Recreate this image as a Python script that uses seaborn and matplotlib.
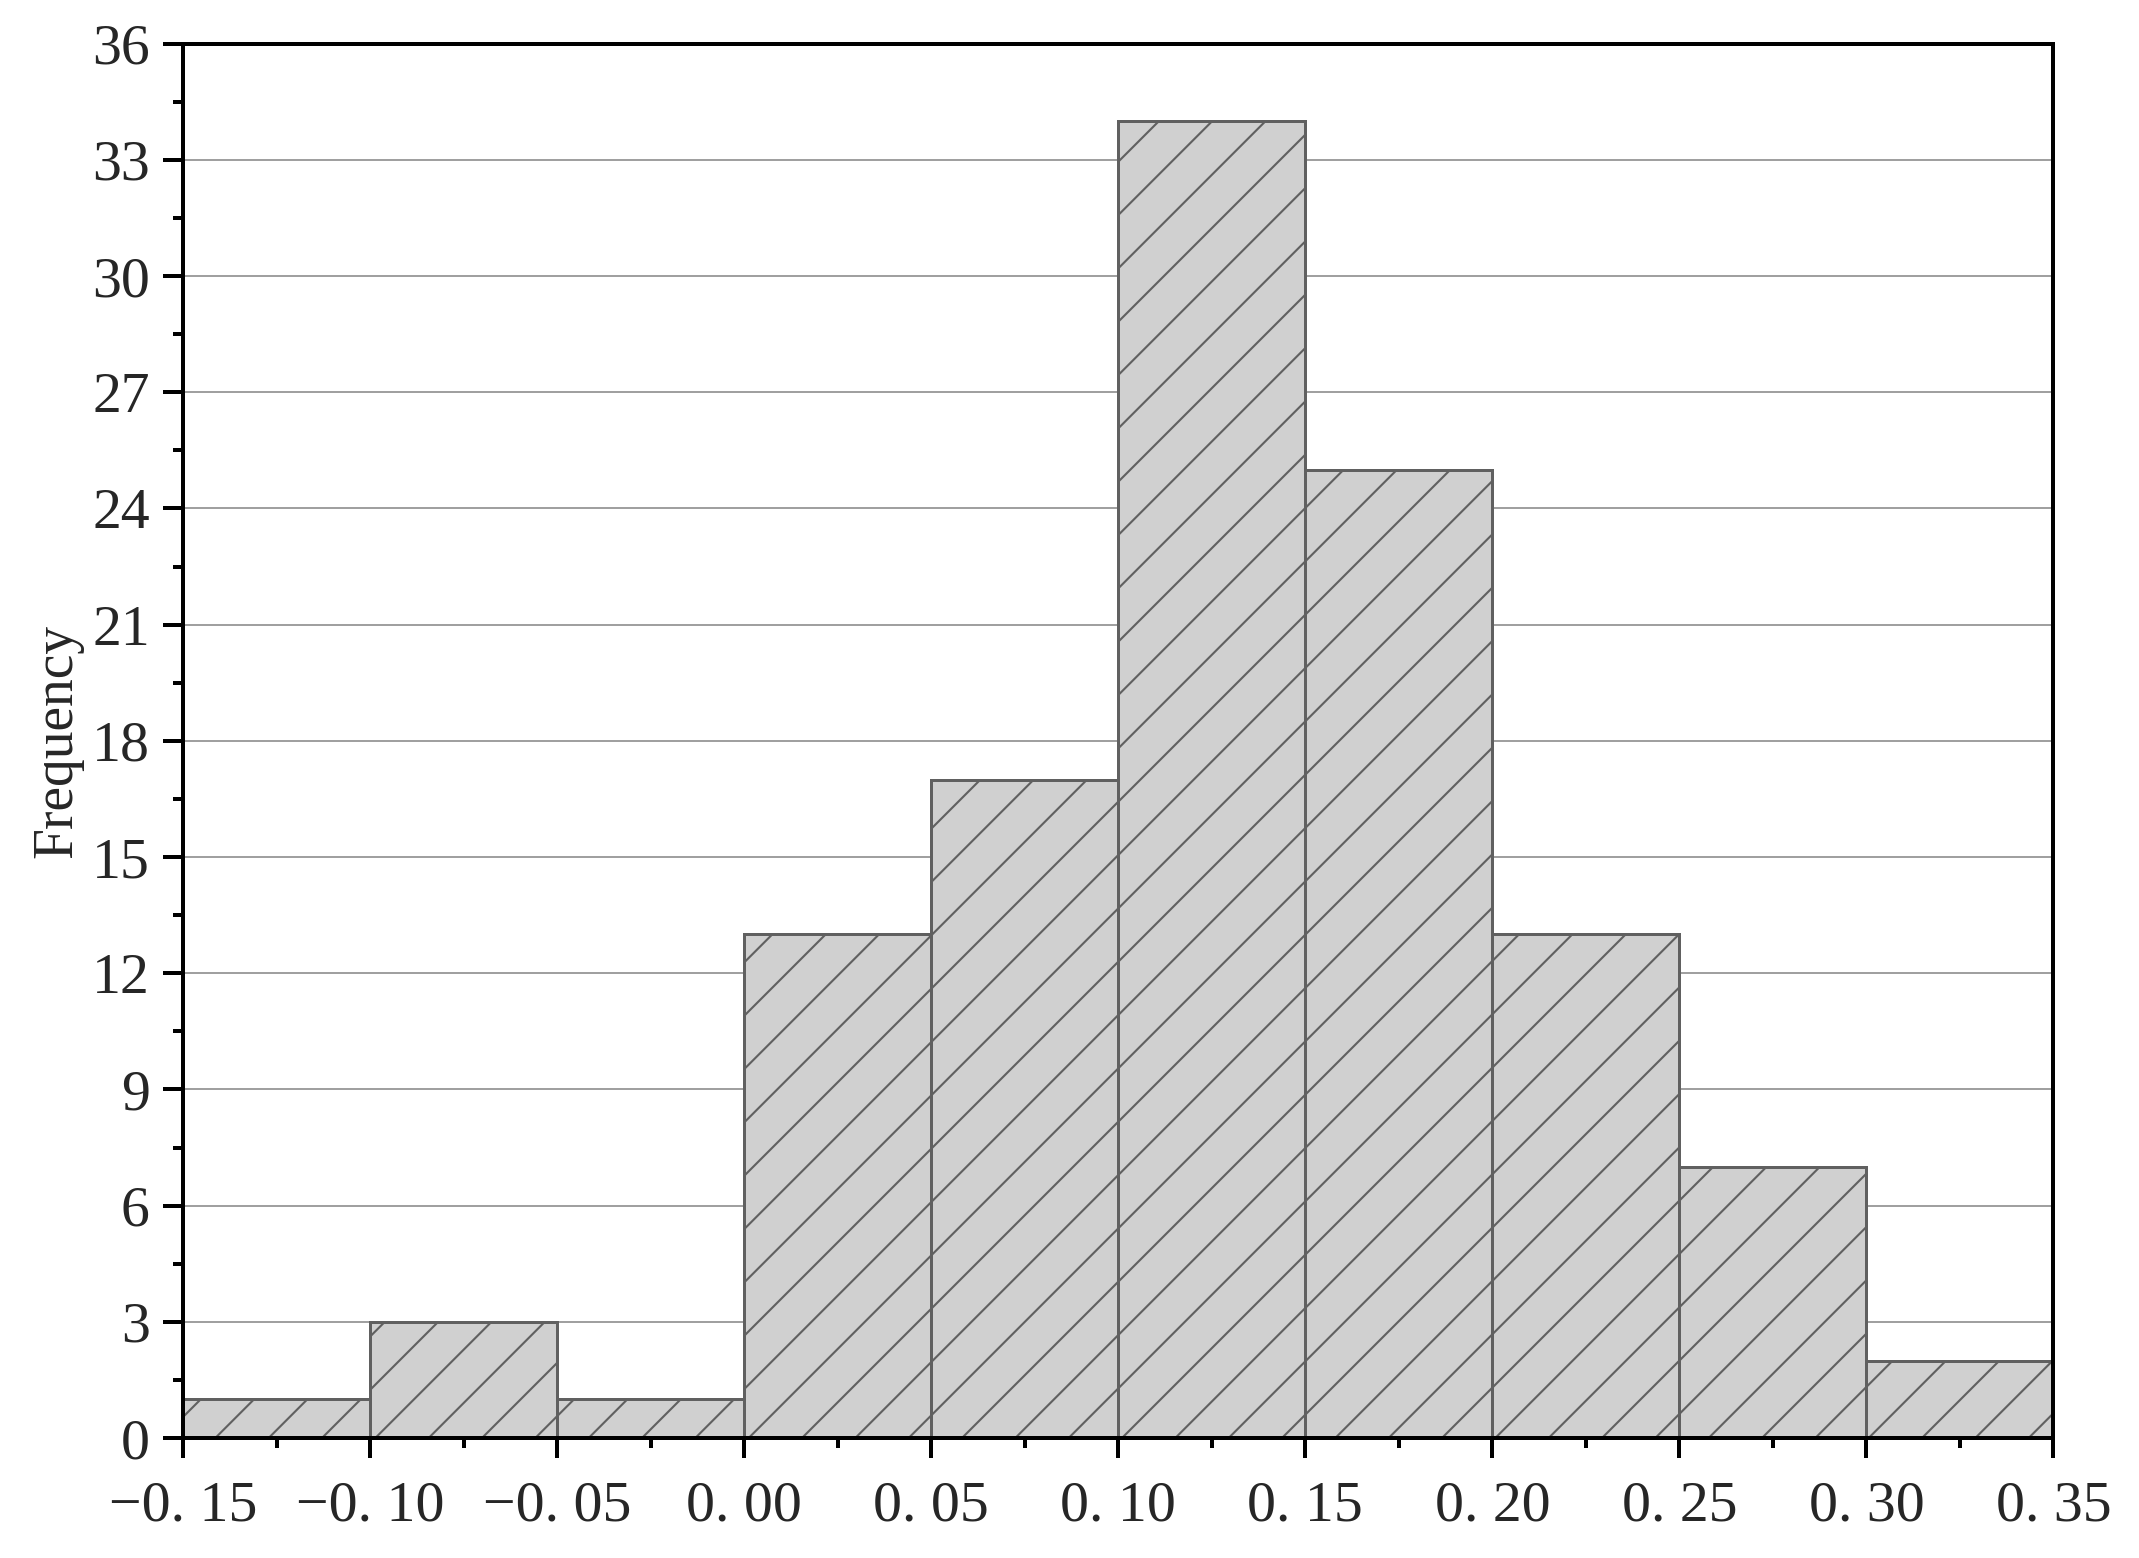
import numpy as np
import matplotlib
matplotlib.use("Agg")
import matplotlib.pyplot as plt
import seaborn as sns
from matplotlib.ticker import MultipleLocator, FixedLocator

# histogram data
bin_edges = [-0.15, -0.10, -0.05, 0.00, 0.05, 0.10, 0.15, 0.20, 0.25, 0.30, 0.35]
counts = [1, 3, 1, 13, 17, 34, 25, 13, 7, 2]
x_ticks = [-0.15, -0.10, -0.05, 0.00, 0.05, 0.10, 0.15, 0.20, 0.25, 0.30, 0.35]
x_tick_labels = ["\u22120. 15", "\u22120. 10", "\u22120. 05", "0. 00", "0. 05", "0. 10",
                 "0. 15", "0. 20", "0. 25", "0. 30", "0. 35"]
y_ticks = [0, 3, 6, 9, 12, 15, 18, 21, 24, 27, 30, 33, 36]

centers = [(a + b) / 2 for a, b in zip(bin_edges[:-1], bin_edges[1:])]

sns.set_style("white")
plt.rcParams["font.family"] = ["Liberation Serif", "DejaVu Serif"]
plt.rcParams["hatch.linewidth"] = 0.95

fig = plt.figure(figsize=(2139 / 160, 1558 / 160), dpi=160)
ax = fig.add_axes([0.0856, 0.077, 0.960 - 0.0856, 0.972 - 0.077])

# bars from the bin counts
sns.histplot(x=centers, weights=counts, bins=bin_edges, ax=ax,
             color="#d0d0d0", edgecolor="#606060", linewidth=1.35,
             alpha=1, hatch="/", zorder=2)

ax.set_xlim(-0.15, 0.35)
ax.set_ylim(0, 36)
ax.xaxis.set_major_locator(FixedLocator(x_ticks))
ax.set_xticklabels(x_tick_labels)
ax.xaxis.set_minor_locator(MultipleLocator(0.025))
ax.yaxis.set_major_locator(FixedLocator(y_ticks))
ax.yaxis.set_minor_locator(MultipleLocator(1.5))

ax.grid(axis="y", color="#a0a0a0", linewidth=0.9, zorder=0)
ax.set_axisbelow(True)

for s in ax.spines.values():
    s.set_visible(True)
    s.set_color("black")
    s.set_linewidth(1.8)

ax.tick_params(which="major", direction="out", length=9, width=1.8,
               labelsize=26, bottom=True, left=True, color="black")
ax.tick_params(which="minor", direction="out", length=4.5, width=1.8,
               bottom=True, left=True, color="black")
ax.tick_params(axis="x", which="major", pad=10)
ax.tick_params(axis="y", which="major", pad=6)

ax.set_xlabel("")
ax.set_ylabel("Frequency", fontsize=25, labelpad=4)

fig.savefig("out.png", dpi=160)
